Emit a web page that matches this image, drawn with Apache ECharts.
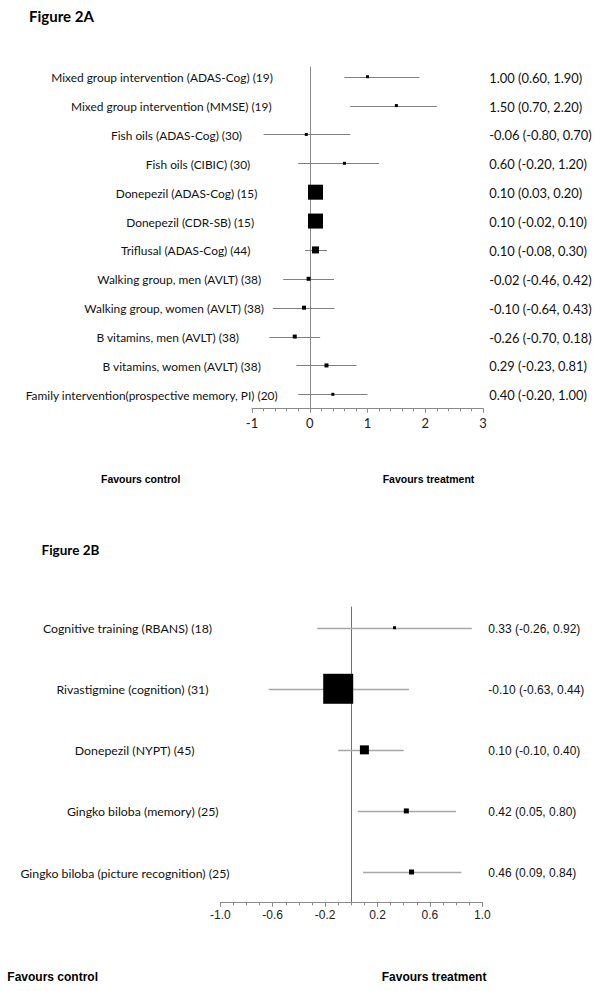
<!DOCTYPE html>
<html>
<head>
<meta charset="utf-8">
<script src="https://cdn.jsdelivr.net/npm/echarts@6/dist/echarts.min.js"></script>
<style>
html,body{margin:0;padding:0;background:#fff;}
#chart{width:594px;height:991px;}
</style>
</head>
<body>
<div id="chart"></div>
<script>
// ---- Figure 2A data ----
const namesA = [
  'Mixed group intervention (ADAS-Cog) (19)',
  'Mixed group intervention (MMSE) (19)',
  'Fish oils (ADAS-Cog) (30)',
  'Fish oils (CIBIC) (30)',
  'Donepezil (ADAS-Cog) (15)',
  'Donepezil (CDR-SB) (15)',
  'Triflusal (ADAS-Cog) (44)',
  'Walking group, men (AVLT) (38)',
  'Walking group, women (AVLT) (38)',
  'B vitamins, men (AVLT) (38)',
  'B vitamins, women (AVLT) (38)',
  'Family intervention(prospective memory, PI) (20)'
];
const estA = [1.00, 1.50, -0.06, 0.60, 0.10, 0.10, 0.10, -0.02, -0.10, -0.26, 0.29, 0.40];
const loA  = [0.60, 0.70, -0.80, -0.20, 0.03, -0.02, -0.08, -0.46, -0.64, -0.70, -0.23, -0.20];
const hiA  = [1.90, 2.20, 0.70, 1.20, 0.20, 0.10, 0.30, 0.42, 0.43, 0.18, 0.81, 1.00];
const ticksA = [-1, 0, 1, 2, 3];

// ---- Figure 2B data ----
const namesB = [
  'Cognitive training (RBANS) (18)',
  'Rivastigmine (cognition) (31)',
  'Donepezil (NYPT) (45)',
  'Gingko biloba (memory) (25)',
  'Gingko biloba (picture recognition) (25)'
];
const estB = [0.33, -0.10, 0.10, 0.42, 0.46];
const loB  = [-0.26, -0.63, -0.10, 0.05, 0.09];
const hiB  = [0.92, 0.44, 0.40, 0.80, 0.84];
const ticksB = [-1.0, -0.6, -0.2, 0.2, 0.6, 1.0];

// ---- layout / style (not data) ----
const boxSizeA = [3, 3, 3, 3, 15, 15, 7, 4, 4, 4, 4, 3];
const labelCenterA = [162, 171.3, 176.5, 198, 186.5, 190.2, 185.7, 179.2, 174.2, 167.7, 181.7, 151.7];
const boxSizeB = [3, 30, 9, 5, 5];
const labelCenterB = [127.5, 132.5, 134.7, 142.8, 125];

const CAL = 'Lato, "Open Sans", sans-serif';
const ARI = '"Liberation Sans", Arial, sans-serif';

function fmt(v){ return v.toFixed(2); }

function makeRender(sizes, centers, names, cfg){
  return function(params, api){
    const i = params.dataIndex;
    const row = api.value(1);
    const pE = api.coord([api.value(0), row]);
    const pL = api.coord([api.value(2), row]);
    const pH = api.coord([api.value(3), row]);
    const y = Math.round(pE[1]) + 0.5;
    const s = sizes[i];
    return {
      type: 'group',
      children: [
        {type:'line', shape:{x1:pL[0], y1:y, x2:pH[0], y2:y},
         style:{stroke:cfg.ciColor, lineWidth:cfg.ciWidth}},
        {type:'rect', shape:{x:pE[0]-s/2, y:pE[1]-s/2, width:s, height:s},
         style:{fill:'#000'}},
        {type:'text', x:centers[i], y:pE[1]+1,
         style:{text:names[i], align:'center', verticalAlign:'middle',
                font:cfg.nameFont, fill:'#111'}},
        {type:'text', x:cfg.valueX, y:pE[1]+1,
         style:{text: fmt(api.value(0))+' ('+fmt(api.value(2))+', '+fmt(api.value(3))+')',
                align:'left', verticalAlign:'middle', font:cfg.valueFont, fill:'#111'}}
      ]
    };
  };
}

const dataA = namesA.map((n,i)=>[estA[i], i+1, loA[i], hiA[i]]);
const dataB = namesB.map((n,i)=>[estB[i], i+1, loB[i], hiB[i]]);

const chart = echarts.init(document.getElementById('chart'), null, {renderer:'svg', width:594, height:991});

const option = {
  animation: false,
  backgroundColor: '#fff',
  grid: [
    {left:252, width:231, top:67, height:341.3},
    {left:220.3, width:262, top:607, height:295.3}
  ],
  xAxis: [
    {gridIndex:0, type:'value', position:'bottom', min:-1, max:3, interval:1,
     axisLine:{show:true, onZero:false, lineStyle:{color:'#8a8a8a', width:1}},
     axisTick:{show:true, length:4.5, lineStyle:{color:'#8a8a8a'}},
     minorTick:{show:true, splitNumber:5, length:3, lineStyle:{color:'#8a8a8a', width:1}},
     splitLine:{show:false},
     axisLabel:{show:true, margin:8, color:'#222', fontFamily:CAL, fontSize:13,
       customValues: ticksA, formatter: v => String(v)}},
    {gridIndex:1, type:'value', position:'bottom', min:-1, max:1, interval:0.1,
     axisLine:{show:true, onZero:false, lineStyle:{color:'#8a8a8a', width:1}},
     axisTick:{show:true, length:3, lineStyle:{color:'#8a8a8a'}},
     splitLine:{show:false},
     axisLabel:{show:true, margin:7, color:'#222', fontFamily:ARI, fontSize:12,
       customValues: ticksB, formatter: v => v.toFixed(1)}},
    {gridIndex:1, type:'value', position:'bottom', min:-1, max:1, interval:0.1,
     axisLine:{show:false, onZero:false},
     axisTick:{show:true, length:4.5, customValues: ticksB, lineStyle:{color:'#8a8a8a'}},
     splitLine:{show:false},
     axisLabel:{show:false}}
  ],
  yAxis: [
    {gridIndex:0, type:'value', inverse:true, min:0.664, max:12.485,
     axisLine:{show:true, onZero:true, lineStyle:{color:'#8a8a8a', width:1}},
     axisTick:{show:false}, axisLabel:{show:false}, splitLine:{show:false}},
    {gridIndex:1, type:'value', inverse:true, min:0.661, max:5.496,
     axisLine:{show:true, onZero:true, lineStyle:{color:'#707070', width:1}},
     axisTick:{show:false}, axisLabel:{show:false}, splitLine:{show:false}}
  ],
  series: [
    {type:'custom', xAxisIndex:0, yAxisIndex:0, data:dataA, clip:false,
     encode:{x:0, y:1},
     renderItem: makeRender(boxSizeA, labelCenterA, namesA,
       {ciColor:'#808080', ciWidth:1, nameFont:'11.9px '+CAL, valueFont:'12.9px '+CAL, valueX:489.3})},
    {type:'custom', xAxisIndex:1, yAxisIndex:1, data:dataB, clip:false,
     encode:{x:0, y:1},
     renderItem: makeRender(boxSizeB, labelCenterB, namesB,
       {ciColor:'#a8a8a8', ciWidth:1.3, nameFont:'12.3px '+CAL, valueFont:'12px '+ARI, valueX:488.3})}
  ],
  graphic: [
    {type:'text', left:29, top:8, style:{text:'Figure 2A', font:'bold 15px '+CAL, fill:'#000'}},
    {type:'text', left:101, top:473, style:{text:'Favours control', font:'bold 10.5px '+ARI, fill:'#000'}},
    {type:'text', left:382.7, top:473, style:{text:'Favours treatment', font:'bold 10.5px '+ARI, fill:'#000'}},
    {type:'text', left:41.5, top:543, style:{text:'Figure 2B', font:'bold 13.5px '+CAL, fill:'#000'}},
    {type:'text', left:7.3, top:971, style:{text:'Favours control', font:'bold 12px '+ARI, fill:'#000'}},
    {type:'text', left:381.7, top:971, style:{text:'Favours treatment', font:'bold 12px '+ARI, fill:'#000'}}
  ]
};
chart.setOption(option);
</script>
</body>
</html>
